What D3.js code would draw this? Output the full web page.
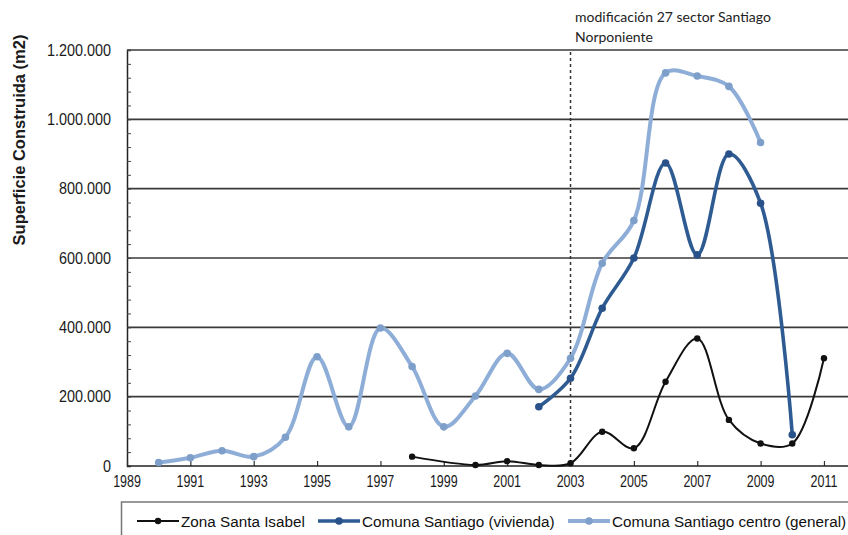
<!DOCTYPE html>
<html>
<head>
<meta charset="utf-8">
<script src="https://cdn.jsdelivr.net/npm/d3@7"></script>
<style>
  body { margin: 0; background: #fff; }
  svg { display: block; }
</style>
</head>
<body>
<div id="chart"></div>
<script>
// superficie construida por año, tres series
var yearsIsabel = [1998, 2000, 2001, 2002, 2003, 2004, 2005, 2006, 2007, 2008, 2009, 2010, 2011];
var valuesIsabel = [27000, 3000, 14000, 3000, 8000, 99000, 51000, 243000, 368000, 133000, 65000, 65000, 311000];

var yearsVivienda = [2002, 2003, 2004, 2005, 2006, 2007, 2008, 2009, 2010];
var valuesVivienda = [171000, 253000, 455000, 600000, 874000, 609000, 900000, 758000, 90000];

var yearsGeneral = [1990, 1991, 1992, 1993, 1994, 1995, 1996, 1997, 1998, 1999, 2000, 2001, 2002, 2003, 2004, 2005, 2006, 2007, 2008, 2009];
var valuesGeneral = [10000, 24000, 44000, 27000, 83000, 315000, 113000, 398000, 287000, 113000, 202000, 325000, 221000, 311000, 585000, 708000, 1134000, 1125000, 1095000, 933000];

var seriesNames = ["Zona Santa Isabel", "Comuna Santiago (vivienda)", "Comuna Santiago centro (general)"];
var xTickYears = [1989, 1991, 1993, 1995, 1997, 1999, 2001, 2003, 2005, 2007, 2009, 2011];
var yTickValues = [0, 200000, 400000, 600000, 800000, 1000000, 1200000];
var markerYear = 2003;
var noteLines = ["modificación 27 sector Santiago", "Norponiente"];

var width = 848, height = 535;

var svg = d3.select("#chart").append("svg")
    .attr("width", width)
    .attr("height", height);

var x = d3.scaleLinear().domain([1989, 2012]).range([127, 127 + 23 * 31.68]);
var y = d3.scaleLinear().domain([0, 1200000]).range([466, 50]);

var es = d3.formatLocale({decimal: ",", thousands: ".", grouping: [3], currency: ["", ""]});
var fmt = es.format(",");

// gridlines
svg.append("g").selectAll("line")
    .data(yTickValues.filter(function(d) { return d > 0; }))
    .enter().append("line")
    .attr("x1", x(1989)).attr("x2", width)
    .attr("y1", function(d) { return y(d); })
    .attr("y2", function(d) { return y(d); })
    .attr("stroke", "#3a3a3a")
    .attr("stroke-width", 1.6);

// y axis, minor ticks inside every 40.000
var yAxis = svg.append("g")
    .attr("transform", "translate(" + x(1989) + ",0)")
    .call(d3.axisRight(y).tickValues(d3.range(0, 1200001, 40000)).tickSize(4).tickFormat(""));
yAxis.select(".domain").attr("stroke", "#222").attr("stroke-width", 1.5);
yAxis.selectAll(".tick line").attr("stroke", "#444");

svg.append("g").selectAll("text")
    .data(yTickValues)
    .enter().append("text")
    .attr("transform", function(d) { return "translate(111," + y(d) + ") scale(0.9,1)"; })
    .attr("dy", "0.36em")
    .attr("text-anchor", "end")
    .style("font", "16px 'Liberation Sans', Arial, sans-serif")
    .attr("fill", "#1a1a1a")
    .text(function(d) { return fmt(d); });

// x axis
var xAxis = svg.append("g")
    .attr("transform", "translate(0," + y(0) + ")")
    .call(d3.axisTop(x).tickValues(xTickYears).tickSize(5).tickFormat(""));
xAxis.select(".domain").remove();
xAxis.selectAll(".tick line").attr("stroke", "#333").attr("stroke-width", 1.2);
svg.append("line")
    .attr("x1", x(1989)).attr("x2", width)
    .attr("y1", y(0)).attr("y2", y(0))
    .attr("stroke", "#222").attr("stroke-width", 1.5);

// year labels look condensed in the original, squeeze them a bit
svg.append("g").selectAll("text")
    .data(xTickYears)
    .enter().append("text")
    .attr("transform", function(d) { return "translate(" + x(d) + ",487) scale(0.78,1)"; })
    .attr("text-anchor", "middle")
    .style("font", "16px 'Liberation Sans', Arial, sans-serif")
    .attr("fill", "#1a1a1a")
    .text(function(d) { return d; });

// y title
svg.append("text")
    .attr("transform", "translate(25,140) rotate(-90)")
    .attr("text-anchor", "middle")
    .style("font", "bold 16.5px 'Liberation Sans', Arial, sans-serif")
    .attr("fill", "#1a1a1a")
    .text("Superficie Construida (m2)");

// dotted line at 2003 + note
svg.append("line")
    .attr("x1", x(markerYear)).attr("x2", x(markerYear))
    .attr("y1", y(1200000) + 2).attr("y2", y(0))
    .attr("stroke", "#333")
    .attr("stroke-width", 1.5)
    .attr("stroke-dasharray", "3,3");

svg.append("g").selectAll("text")
    .data(noteLines)
    .enter().append("text")
    .attr("x", 575)
    .attr("y", function(d, i) { return 22 + i * 20; })
    .style("font", "14px Lato, 'Open Sans', sans-serif")
    .attr("fill", "#222")
    .text(function(d) { return d; });

// series
var series = [
    {name: seriesNames[0], years: yearsIsabel, values: valuesIsabel, color: "#111", dot: "#111", w: 2, r: 3.2},
    {name: seriesNames[1], years: yearsVivienda, values: valuesVivienda, color: "#2f5b93", dot: "#2a528a", w: 3.6, r: 3.8},
    {name: seriesNames[2], years: yearsGeneral, values: valuesGeneral, color: "#8eaed8", dot: "#7f9fcb", w: 4, r: 3.8}
];

var line = d3.line()
    .x(function(d) { return x(d[0]); })
    .y(function(d) { return y(d[1]); })
    .curve(d3.curveCatmullRom.alpha(0.5));

// draw general first so the others sit on top
[2, 1, 0].forEach(function(i) {
    var s = series[i];
    var pts = s.years.map(function(yr, j) { return [yr, s.values[j]]; });
    svg.append("path")
        .datum(pts)
        .attr("d", line)
        .attr("fill", "none")
        .attr("stroke", s.color)
        .attr("stroke-width", s.w)
        .attr("stroke-linejoin", "round");
    svg.append("g").selectAll("circle")
        .data(pts)
        .enter().append("circle")
        .attr("cx", function(d) { return x(d[0]); })
        .attr("cy", function(d) { return y(d[1]); })
        .attr("r", s.r)
        .attr("fill", s.dot);
});

// legend
svg.append("rect")
    .attr("x", 121.5).attr("y", 502)
    .attr("width", 740).attr("height", 50)
    .attr("fill", "#fff")
    .attr("stroke", "#777")
    .attr("stroke-width", 1.5);

var legendX = [137, 318, 568];
var leg = svg.append("g").selectAll("g")
    .data(series)
    .enter().append("g")
    .attr("transform", function(d, i) { return "translate(" + legendX[i] + ",521)"; });
leg.append("line")
    .attr("x1", 0).attr("x2", 42)
    .attr("stroke", function(d) { return d.color; })
    .attr("stroke-width", function(d) { return d.w; });
leg.append("circle")
    .attr("cx", 21).attr("r", function(d) { return d.r; })
    .attr("fill", function(d) { return d.dot; });
leg.append("text")
    .attr("transform", "translate(44,0) scale(0.985,1)")
    .attr("dy", "0.36em")
    .style("font", "15.5px 'Liberation Sans', Arial, sans-serif")
    .attr("fill", "#111")
    .text(function(d) { return d.name; });
</script>
</body>
</html>
